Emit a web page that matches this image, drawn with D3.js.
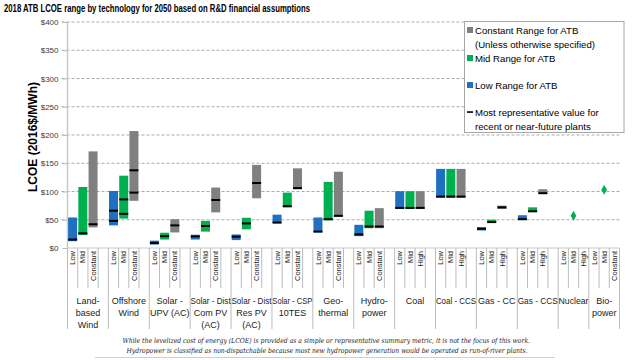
<!DOCTYPE html>
<html><head><meta charset="utf-8">
<script src="https://cdn.jsdelivr.net/npm/d3@7"></script>
<style>
body{margin:0;background:#fff}
svg{display:block}
text{font-family:"Liberation Sans",Arial,sans-serif}
</style>
</head><body>
<svg id="chart" width="640" height="360"></svg>
<script>
// ---------------- data ----------------
const title = "2018 ATB LCOE range by technology for 2050 based on R&D financial assumptions";
const yLabel = "LCOE (2016$/MWh)";
const groups = ["Land-based Wind","Offshore Wind","Solar - UPV (AC)","Solar - Dist Com PV (AC)","Solar - Dist Res PV (AC)","Solar - CSP 10TES","Geothermal","Hydropower","Coal","Coal - CCS","Gas - CC","Gas - CCS","Nuclear","Biopower"];
const groupLines = [["Land-","based","Wind"],["Offshore","Wind"],["Solar -","UPV (AC)"],["Solar - Dist","Com PV","(AC)"],["Solar - Dist","Res PV","(AC)"],["Solar - CSP","10TES"],["Geo-","thermal"],["Hydro-","power"],["Coal"],["Coal - CCS"],["Gas - CC"],["Gas - CCS"],["Nuclear"],["Bio-","power"]];
const caseLabels = [
  ["Low","Mid","Constant"],["Low","Mid","Constant"],["Low","Mid","Constant"],["Low","Mid","Constant"],
  ["Low","Mid","Constant"],["Low","Mid","Constant"],["Low","Mid","Constant"],["Low","Mid","Constant"],
  ["Low","Mid","High"],["Low","Mid","High"],["Low","Mid","High"],["Low","Mid","High"],
  ["Low","Mid","High"],["Low","Mid","Constant"]];
const groupHasGap = [true,true,true,true,true,true,true,true,true,true,true,true,false,false];
const yTicks = [0,50,100,150,200,250,300,350,400];

// Low range (blue)
const lowBottom = [12, 40, 6, 15, 14, 44, 28, 21, 69, 89, 31, 50, null, null];
const lowTop    = [54, 101, 13, 23.5, 24, 59, 54, 41, 100.5, 140, 37, 58, null, null];
const lowRep    = [15, 48, 9, 20.5, 20, 45, 29, 24, 71, 91, 34, 51, null, null];
const lowRep2   = [null, 66, null, null, null, null, null, null, null, null, null, null, null, null];
// Mid range (green)
const midBottom = [23, 52, 15, 29, 33, 72, 49, 35, 69, 89, 44, 63.5, null, null];
const midTop    = [108, 128, 27, 48, 53.5, 98, 117, 66, 100.5, 140, 50, 72, null, null];
const midRep    = [26, 60.5, 21, 39, 43.5, 74, 51, 38, 71, 91, 46, 65, null, null];
const midRep2   = [null, 86, null, null, null, null, null, null, null, null, null, null, null, null];
const midPoint  = [null, null, null, null, null, null, null, null, null, null, null, null, 57, 103];
// Constant / High range (gray)
const constBottom = [36.5, 83.5, 27.5, 63, 88, 104, 55, 35, 69, 89, 69, 96, null, null];
const constTop    = [171, 207, 51, 107, 147, 141, 135, 70.5, 100.5, 140, 75, 104, null, null];
const constRep    = [42, 98, 40, 85, 115, 106, 57, 38, 71, 91, 72, 97, null, null];
const constRep2   = [null, 137.5, null, null, null, null, null, null, null, null, null, null, null, null];

const seriesColors = ["#1F70C1", "#00B050", "#808080"];
const legendItems = [
  {lines:["Constant Range for ATB","(Unless otherwise specified)"], color:"#808080", type:"sq"},
  {lines:["Mid Range for ATB"], color:"#00B050", type:"sq"},
  {lines:["Low Range for ATB"], color:"#1F70C1", type:"sq"},
  {lines:["Most representative value for","recent or near-future plants"], color:"#000", type:"dash"}
];
const footnotes = [
  "While the levelized cost of energy (LCOE) is provided as a simple or representative summary metric, it is not the focus of this work.",
  "Hydropower is classified as non-dispatchable because most new hydropower generation would be operated as run-of-river plants."
];

// ---------------- build slots ----------------
const bottoms = [lowBottom, midBottom, constBottom];
const tops = [lowTop, midTop, constTop];
const reps = [[lowRep, lowRep2],[midRep, midRep2],[constRep, constRep2]];
const slots = [];
const groupStart = [];
groups.forEach((g, gi) => {
  groupStart.push(slots.length);
  caseLabels[gi].forEach((lab, ci) => slots.push({gi, ci, label: lab, id: slots.length}));
  if (groupHasGap[gi]) slots.push({gi, ci: -1, label: "", id: slots.length});
});
groupStart.push(slots.length);

// ---------------- layout ----------------
const svg = d3.select("#chart");
const L = 67.5, R = 619.5, T = 22, B = 248;
const x = d3.scaleBand().domain(slots.map(d => d.id)).range([L, R]).paddingInner(0.12).paddingOuter(0.06);
const edge = d3.scaleLinear().domain([0, slots.length]).range([L, R]);
const y = d3.scaleLinear().domain([0, 400]).range([B, T]);

// title
svg.append("text").attr("x", 4).attr("y", 12).attr("font-size", 10).attr("font-weight", "bold")
  .attr("fill", "#000").attr("textLength", 306).attr("lengthAdjust", "spacingAndGlyphs").text(title);

// gridlines
svg.append("g").selectAll("line").data(yTicks.filter(t => t > 0)).join("line")
  .attr("x1", L - 6).attr("x2", R).attr("y1", d => y(d)).attr("y2", d => y(d))
  .attr("stroke", "#aaaaaa").attr("stroke-width", 1).attr("stroke-dasharray", "3,2");

// y axis
const yAxis = d3.axisLeft(y).tickValues(yTicks).tickSize(5).tickFormat(d => "$" + d);
const ya = svg.append("g").attr("transform", `translate(${L},0)`).call(yAxis);
ya.select(".domain").remove();
ya.selectAll(".tick line").attr("stroke", "#bbbbbb");
ya.selectAll(".tick text").attr("font-size", 8).attr("fill", "#404040").attr("x", -9)
  .style("font-family", "'Liberation Sans', Arial, sans-serif");
svg.append("line").attr("x1", L).attr("x2", L).attr("y1", T).attr("y2", B)
  .attr("stroke", "#c8c8c8").attr("stroke-width", 1.5);

// y label
svg.append("text").attr("transform", `translate(37,${(T + B) / 2 + 2}) rotate(-90)`)
  .attr("text-anchor", "middle").attr("font-size", 12).attr("font-weight", "bold").attr("fill", "#000").text(yLabel);

// x axis line
svg.append("line").attr("x1", L).attr("x2", R).attr("y1", B).attr("y2", B).attr("stroke", "#c8c8c8").attr("stroke-width", 1);

// slot ticks
const xg = svg.append("g");
d3.range(1, slots.length + 1).forEach(i => {
  const isGroup = groupStart.includes(i);
  xg.append("line").attr("x1", edge(i)).attr("x2", edge(i)).attr("y1", B)
    .attr("y2", isGroup ? 329 : 288).attr("stroke", "#bdbdbd").attr("stroke-width", 1);
});
xg.append("line").attr("x1", L).attr("x2", L).attr("y1", B).attr("y2", 329).attr("stroke", "#bdbdbd");

// slot labels
xg.selectAll("text.slot").data(slots.filter(s => s.label)).join("text").attr("class", "slot")
  .attr("transform", d => `translate(${x(d.id) + x.bandwidth() / 2 + 2.6},251) rotate(-90)`)
  .attr("text-anchor", "end").attr("font-size", 7.5).attr("fill", "#222").text(d => d.label);

// group labels
groups.forEach((g, gi) => {
  const cx = (edge(groupStart[gi]) + edge(groupStart[gi + 1])) / 2;
  const maxW = edge(groupStart[gi + 1]) - edge(groupStart[gi]) - 0.8;
  groupLines[gi].forEach((ln, li) => {
    const t = xg.append("text").attr("x", cx).attr("y", 303.5 + li * 12).attr("text-anchor", "middle")
      .attr("font-size", 9).attr("fill", "#222").text(ln);
    const w = t.node().getComputedTextLength();
    if (w > maxW) t.attr("textLength", maxW).attr("lengthAdjust", "spacingAndGlyphs");
  });
});

// bars
const barData = [];
const repData = [];
slots.forEach(s => {
  if (s.ci < 0) return;
  const b = bottoms[s.ci][s.gi], t = tops[s.ci][s.gi];
  if (b != null && t != null) barData.push({id: s.id, ci: s.ci, b, t});
  reps[s.ci].forEach(arr => { if (arr[s.gi] != null) repData.push({id: s.id, v: arr[s.gi]}); });
});
svg.append("g").selectAll("rect").data(barData).join("rect")
  .attr("x", d => x(d.id)).attr("width", x.bandwidth())
  .attr("y", d => y(d.t)).attr("height", d => y(d.b) - y(d.t))
  .attr("fill", d => seriesColors[d.ci]);
svg.append("g").selectAll("rect").data(repData).join("rect")
  .attr("x", d => x(d.id)).attr("width", x.bandwidth())
  .attr("y", d => y(d.v) - 1).attr("height", 2).attr("fill", "#000");

// mid points (diamonds)
const pts = [];
slots.forEach(s => { if (s.ci === 1 && midPoint[s.gi] != null) pts.push({id: s.id, v: midPoint[s.gi]}); });
svg.append("g").selectAll("path").data(pts).join("path")
  .attr("d", d3.symbol(d3.symbolDiamond, 28))
  .attr("transform", d => `translate(${x(d.id) + x.bandwidth() / 2},${y(d.v)})`)
  .attr("fill", "#00B050");

// legend
const lg = svg.append("g");
lg.append("rect").attr("x", 464.5).attr("y", 21.5).attr("width", 159.5).attr("height", 111)
  .attr("fill", "#fff").attr("stroke", "#a6a6a6").attr("stroke-width", 1);
const legendY = [30, 58, 85, 112];
legendItems.forEach((it, i) => {
  const cy = legendY[i];
  if (it.type === "sq") {
    lg.append("rect").attr("x", 467).attr("y", cy - 3).attr("width", 6).attr("height", 6).attr("fill", it.color);
  } else {
    lg.append("rect").attr("x", 467).attr("y", cy - 0.75).attr("width", 6).attr("height", 1.6).attr("fill", it.color);
  }
  it.lines.forEach((ln, li) => {
    lg.append("text").attr("x", 475).attr("y", cy + 3.5 + li * 14).attr("font-size", 9.6).attr("fill", "#000").text(ln);
  });
});

// footnotes
const fl = [[122.5, 530], [126.5, 527.5]];
footnotes.forEach((f, i) => {
  svg.append("text").attr("x", fl[i][0]).attr("y", 342.5 + i * 10).attr("font-size", 7)
    .attr("font-style", "italic").style("font-family", "'DejaVu Serif','Liberation Serif',serif")
    .attr("textLength", fl[i][1] - fl[i][0]).attr("lengthAdjust", "spacingAndGlyphs")
    .attr("fill", "#222").text(f);
});
svg.append("line").attr("x1", 95).attr("x2", 555).attr("y1", 357.5).attr("y2", 357.5).attr("stroke", "#d0d0d0");
</script>
</body></html>
